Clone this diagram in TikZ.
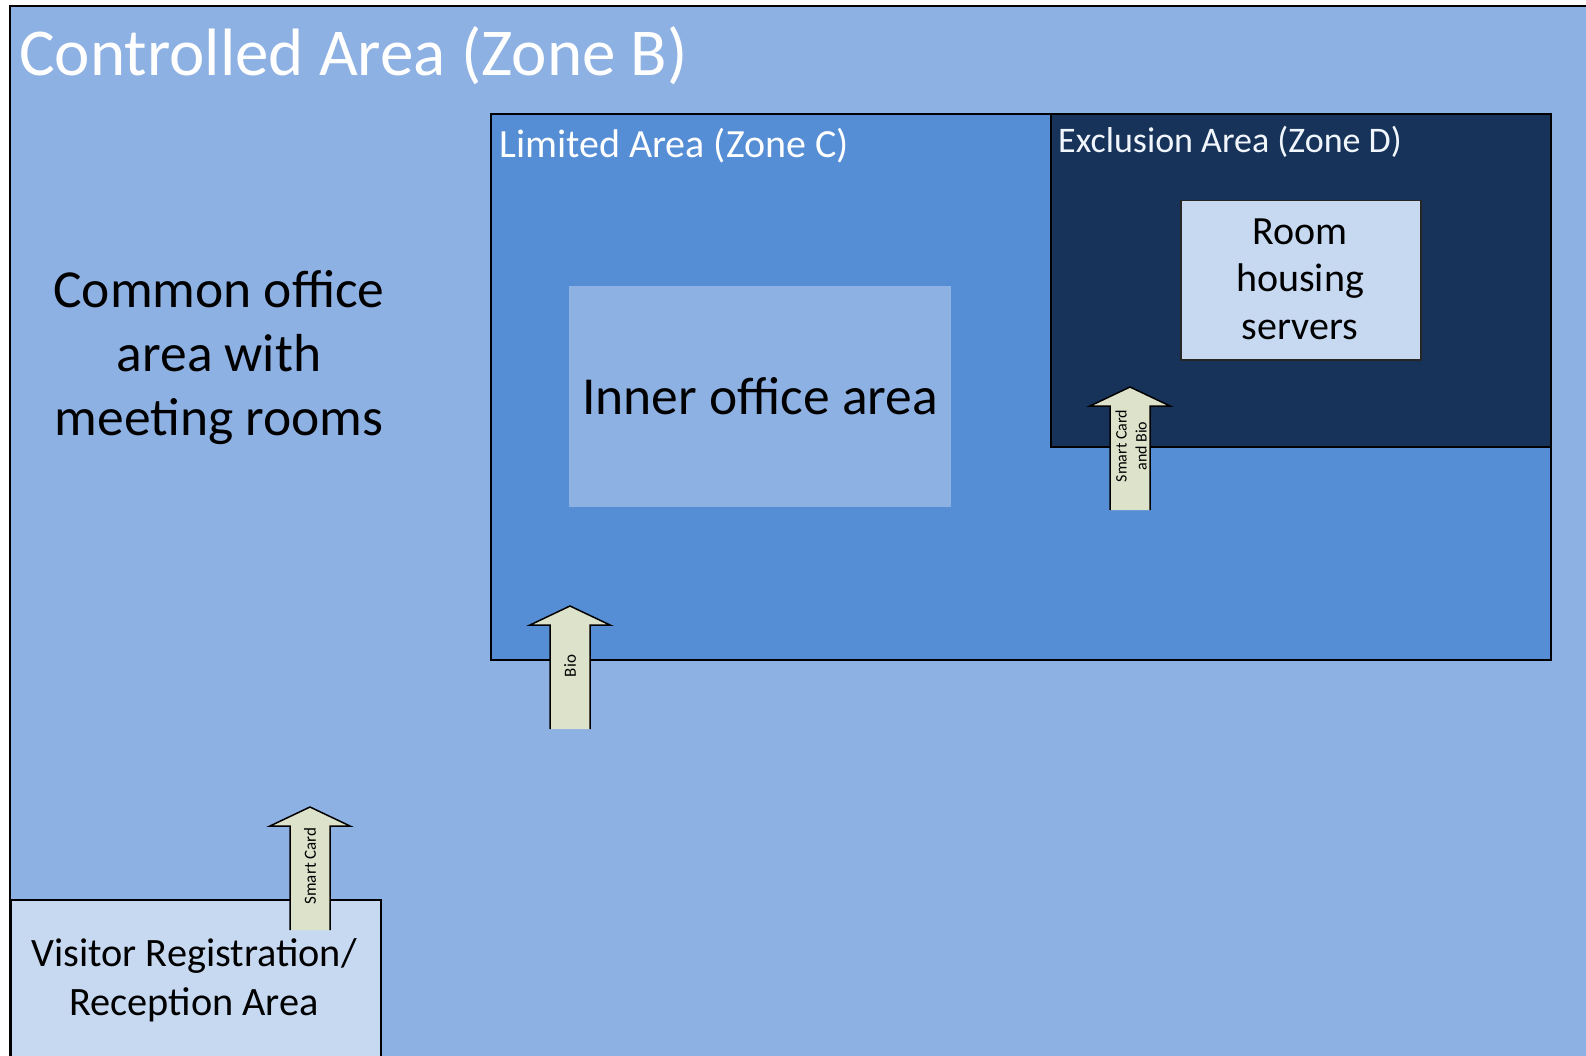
\documentclass[tikz,border=0pt]{standalone}
\usepackage{fontspec}
\setmainfont{Carlito}
\definecolor{zoneB}{HTML}{8EB1E3}
\definecolor{zoneC}{HTML}{558ED5}
\definecolor{zoneD}{HTML}{17335A}
\definecolor{paleblue}{HTML}{C6D9F1}
\definecolor{arrowfill}{HTML}{DDE2CB}
\newcommand\fs[2]{\fontsize{#1}{#2}\selectfont}
\tikzset{
  area/.style={draw=black, line width=1.8pt, anchor=north west, inner sep=0pt},
  label/.style={inner sep=0pt, align=center},
  gatearrow/.pic={
    \fill[arrowfill] (-20,0) -- (-20,-104) -- (-40,-104) -- (0,-123) -- (40,-104) -- (20,-104) -- (20,0) -- cycle;
    \draw[line width=1.5pt, line join=miter] (-20,0) -- (-20,-104) -- (-40,-104) -- (0,-123) -- (40,-104) -- (20,-104) -- (20,0);
  }
}
\begin{document}
\begin{tikzpicture}[x=1pt, y=-1pt]
\useasboundingbox (0,0) rectangle (1586,1056);
\fill[white] (0,0) rectangle (1586,1056);
% Zone B
\fill[zoneB] (10,6) rectangle (1586,1056);
\draw[line width=1.5pt] (10,1056) -- (10,6) -- (1586,6);
\node[label, anchor=west, text=white, font=\fs{67}{80}] (title) at (19,56) {Controlled Area (Zone B)};
% Zone C
\node[area, fill=zoneC, minimum width=1060pt, minimum height=546pt] (zoneC) at (490,113) {};
\node[label, anchor=west, text=white, font=\fs{40}{48}] (zoneCl) at (499,146) {Limited Area (Zone C)};
% Zone D
\node[area, fill=zoneD, minimum width=500pt, minimum height=333pt] (zoneD) at (1050,113) {};
\node[label, anchor=west, text=white!92!zoneC, font=\fs{36}{43}] (zoneDl) at (1058,142) {Exclusion Area (Zone D)};
% Room housing servers
\node[area, fill=paleblue, draw=black!85, line width=1.5pt, minimum width=240pt, minimum height=159pt] (room) at (1180,200) {};
\node[label, font=\fs{40}{47.5}] (roomt) at (1300,279) {Room\\housing\\servers};
% Inner office area
\node[draw=none, fill=zoneB, anchor=north west, minimum width=382pt, minimum height=221pt, inner sep=0pt] (inner) at (569,286) {};
\node[label, font=\fs{53.5}{64}] (innert) at (760,396) {Inner office area};
% Common office
\node[label, font=\fs{53.5}{64}] (common) at (219,358) {Common office\\area with\\meeting rooms};
% Visitor area
\node[area, fill=paleblue, line width=1.5pt, minimum width=370pt, minimum height=170pt] (visitor) at (10,899) {};
\node[label, font=\fs{40.3}{48.5}] (visitort) at (194,980) {Visitor Registration/\\Reception Area};
% Gate arrows
\pic at (570,729) {gatearrow};
\pic at (310,930) {gatearrow};
\pic at (1130,510) {gatearrow};
\node[label, rotate=90, font=\fs{17}{19}] (bio) at (570,666) {Bio};
\node[label, rotate=90, font=\fs{17}{19}] (sc) at (310,866) {Smart Card};
\node[label, rotate=90, font=\fs{16}{20}] (scb) at (1131,446) {Smart Card\\and Bio};
\end{tikzpicture}
\end{document}
